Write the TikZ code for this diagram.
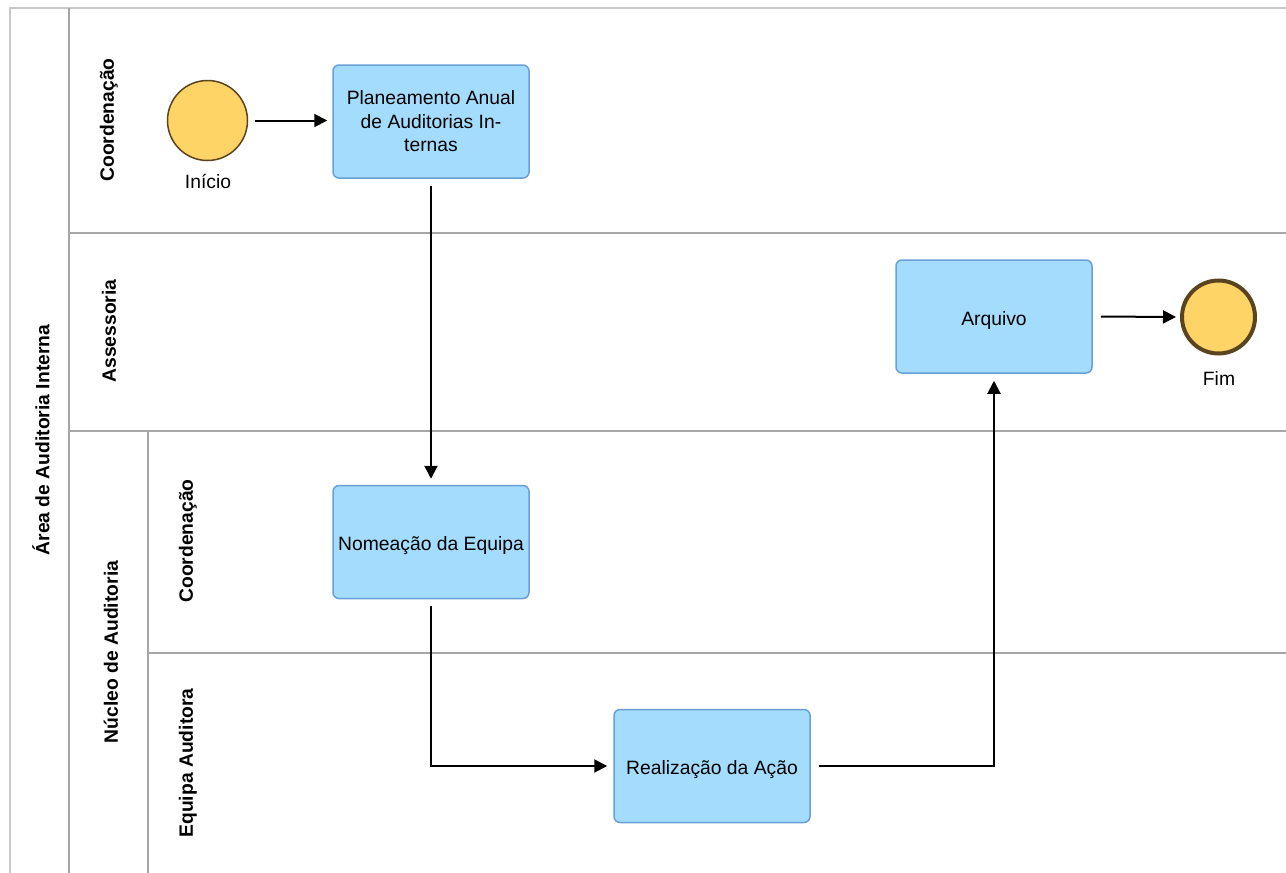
\documentclass[tikz,border=0pt]{standalone}
\usepackage{fontspec}
\setmainfont{Liberation Sans}
\usetikzlibrary{arrows.meta}
\definecolor{boxfill}{HTML}{A3DCFD}
\definecolor{boxdraw}{HTML}{6A9FD8}
\definecolor{evfill}{HTML}{FFD466}
\definecolor{evdraw}{HTML}{5A4420}
\definecolor{lanecol}{HTML}{A6A6A6}
\definecolor{outercol}{HTML}{C8C8C8}
\tikzset{
  task/.style={draw=boxdraw, fill=boxfill, line width=1.5pt, rounded corners=6pt,
    minimum width=196pt, minimum height=113pt, inner sep=0pt, align=center,
    font=\fontsize{19.3pt}{23.5pt}\selectfont},
  oneline/.style={text height=18pt, text depth=1pt},
  startev/.style={circle, draw=evdraw, fill=evfill, line width=1.5pt, minimum size=80pt, inner sep=0pt},
  endev/.style={circle, draw=evdraw, fill=evfill, line width=4pt, minimum size=73pt, inner sep=0pt},
  evlabel/.style={font=\fontsize{19.3pt}{23pt}\selectfont, inner sep=0pt},
  lanelabel/.style={rotate=90, font=\bfseries\fontsize{19.3pt}{23pt}\selectfont, inner sep=0pt},
  lane/.style={draw=lanecol, line width=2pt},
  outer/.style={draw=outercol, line width=2pt},
  arr/.style={line width=2pt, -{Triangle[length=13pt,width=13pt]}},
}
\begin{document}
\begin{tikzpicture}[x=1pt,y=-1pt]
\useasboundingbox (0,0) rectangle (1286,873);
% lanes
\draw[outer] (10,873) -- (10,8) -- (1286,8);
\draw[lane] (69,8) -- (69,873);
\draw[lane] (69,233) -- (1286,233);
\draw[lane] (69,431) -- (1286,431);
\draw[lane] (148,431) -- (148,873);
\draw[lane] (148,653) -- (1286,653);
% lane labels
\node[lanelabel] (lArea) at (41,440) {Área de Auditoria Interna};
\node[lanelabel] (lCoord1) at (109,120) {Coordenação};
\node[lanelabel] (lAsses) at (109,331) {Assessoria};
\node[lanelabel] (lNucleo) at (111,652) {Núcleo de Auditoria};
\node[lanelabel] (lCoord2) at (188,541) {Coordenação};
\node[lanelabel] (lEquipa) at (188,763) {Equipa Auditora};
% nodes
\node[startev] (start) at (207.5,120.5) {};
\node[evlabel] (startlbl) at (208,181) {Início};
\node[task] (plan) at (431,121.5) {Planeamento Anual\\de Auditorias In-\\ternas};
\node[task, oneline] (nome) at (431,542) {Nomeação da Equipa};
\node[task, oneline] (real) at (712,766) {Realização da Ação};
\node[task, oneline] (arq) at (994,316.5) {Arquivo};
\node[endev] (fim) at (1218.5,317) {};
\node[evlabel] (fimlbl) at (1219,379) {Fim};
% connectors
\draw[arr, shorten <=7pt, shorten >=5pt] (start) -- (start -| plan.west);
\draw[arr, shorten <=7pt, shorten >=6pt] (plan.south) -- (nome.north);
\draw[arr, shorten <=7pt, shorten >=6pt] (nome.south) |- (real.west);
\draw[arr, shorten <=8pt, shorten >=7pt] (real.east) -| (arq.south);
\draw[arr, shorten <=8pt, shorten >=4pt] (arq.east) -- (fim.west);
\end{tikzpicture}
\end{document}
